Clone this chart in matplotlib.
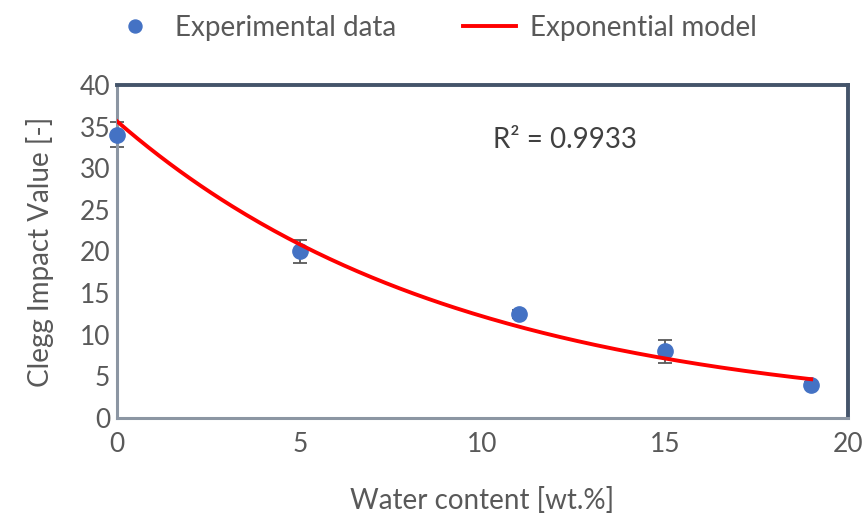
import numpy as np
import matplotlib.pyplot as plt

# données
water = [0, 5, 11, 15, 19]
clegg = [34.0, 20.0, 12.5, 8.0, 4.0]
clegg_err = [1.5, 1.4, 0.5, 1.4, 0.3]
r2_text = "R² = 0.9933"

plt.rcParams['font.family'] = ['Lato', 'DejaVu Sans']
gris = '#595959'

# ajustement exponentiel (comme la courbe de tendance Excel)
b, ln_a = np.polyfit(water, np.log(clegg), 1)
x_fit = np.linspace(0, 19, 200)
y_fit = np.exp(ln_a) * np.exp(b * x_fit)

fig = plt.figure(figsize=(8.65, 5.22), dpi=100)
ax = fig.add_axes([0.1353, 0.1992, 0.8447, 0.638])

ax.errorbar(water, clegg, yerr=clegg_err, fmt='none', ecolor=gris,
            elinewidth=1.3, capsize=5, capthick=1.3, zorder=2, clip_on=False)
pts, = ax.plot(water, clegg, 'o', color='#4472C4', markersize=11,
               zorder=3, clip_on=False, label='Experimental data')
courbe, = ax.plot(x_fit, y_fit, color='#FF0000', linewidth=2.8,
                  zorder=4, label='Exponential model')

ax.text(10.3, 33.4, r2_text, fontsize=20, color='#404040', va='center')

ax.set_xlim(0, 20)
ax.set_ylim(0, 40)
ax.set_xticks([0, 5, 10, 15, 20])
ax.set_yticks(range(0, 41, 5))
ax.tick_params(length=0, labelsize=19, labelcolor=gris)
ax.tick_params(axis='y', pad=5)
ax.tick_params(axis='x', pad=10)
ax.set_xlabel('Water content [wt.%]', fontsize=20, color=gris, labelpad=22)
ax.set_ylabel('Clegg Impact Value [-]', fontsize=20, color=gris, labelpad=18)

for cote in ['top', 'right']:
    ax.spines[cote].set_color('#44546A')
    ax.spines[cote].set_linewidth(2.8)
for cote in ['left', 'bottom']:
    ax.spines[cote].set_color('#8C96A3')
    ax.spines[cote].set_linewidth(2.2)

fig.legend(handles=[pts, courbe], loc='upper center', ncol=2,
           bbox_to_anchor=(0.5, 1.02), frameon=False, fontsize=20,
           labelcolor=gris, handlelength=1.9, handletextpad=0.5,
           columnspacing=2.4, markerscale=0.85)

fig.savefig('out.png', dpi=100)
